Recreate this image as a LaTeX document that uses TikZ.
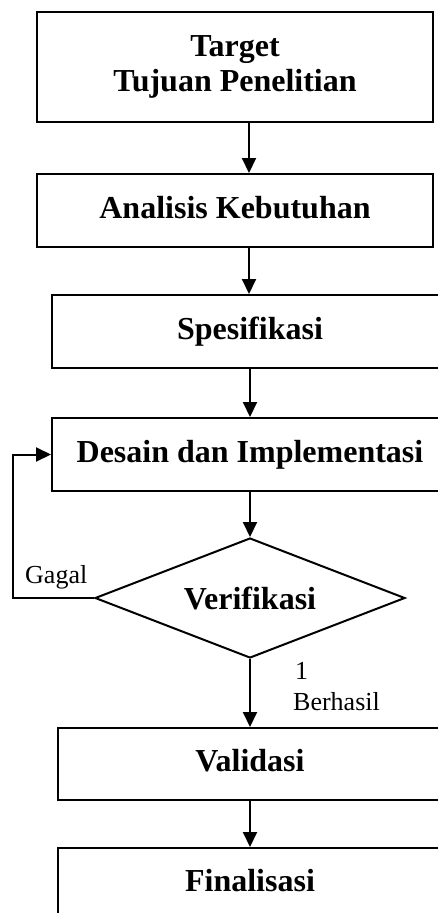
\documentclass[tikz,border=0pt]{standalone}
\usepackage{fontspec}
\setmainfont{Liberation Serif}
\usetikzlibrary{shapes.geometric,arrows.meta}
\begin{document}
\begin{tikzpicture}[x=1pt,y=-1pt,
  stepbox/.style={draw=black,line width=2pt,rectangle,inner sep=0pt,
    font=\fontsize{32}{35}\selectfont\bfseries,align=center,
    text height=22pt,text depth=7pt},
  decbox/.style={draw=black,line width=2pt,diamond,aspect=2.58,inner sep=0pt,
    minimum width=310pt,minimum height=120pt,
    font=\fontsize{32}{35}\selectfont\bfseries},
  arr/.style={line width=2pt,-{Triangle[length=15pt,width=14pt]}},
  lbl/.style={font=\fontsize{26}{31}\selectfont,inner sep=0pt}]
\useasboundingbox (0,0) rectangle (437,913);
\node[stepbox,minimum width=396pt,minimum height=110pt,text height=,text depth=] (t) at (235,67) {Target\\Tujuan Penelitian};
\node[stepbox,minimum width=396pt,minimum height=73pt] (a) at (235,210.5) {Analisis Kebutuhan};
\node[stepbox,minimum width=396pt,minimum height=73pt] (sp) at (250,331.5) {Spesifikasi};
\node[stepbox,minimum width=396pt,minimum height=73pt] (des) at (250,454.5) {Desain dan Implementasi};
\node[decbox] (ver) at (250,598) {Verifikasi};
\node[stepbox,minimum width=384pt,minimum height=72pt] (val) at (250,764) {Validasi};
\node[stepbox,minimum width=384pt,minimum height=72pt] (fin) at (250,884) {Finalisasi};
\coordinate (ax) at (249,0);
\draw[arr] (t.south -| ax) -- (a.north -| ax);
\draw[arr] (a.south -| ax) -- (sp.north -| ax);
\draw[arr] (sp.south) -- (des.north);
\draw[arr] (des.south) -- (ver.north);
\draw[arr] (ver.south) -- (val.north);
\draw[arr] (val.south) -- (fin.north);
\coordinate (fb) at (13,598);
\draw[arr] (ver.west) -- (fb) |- (des.west);
\node[lbl,anchor=base west] (gagal) at (25,583) {Gagal};
\node[lbl,anchor=base west] (one) at (295,679) {1};
\node[lbl,anchor=base west] (berhasil) at (293,710) {Berhasil};
\end{tikzpicture}
\end{document}
